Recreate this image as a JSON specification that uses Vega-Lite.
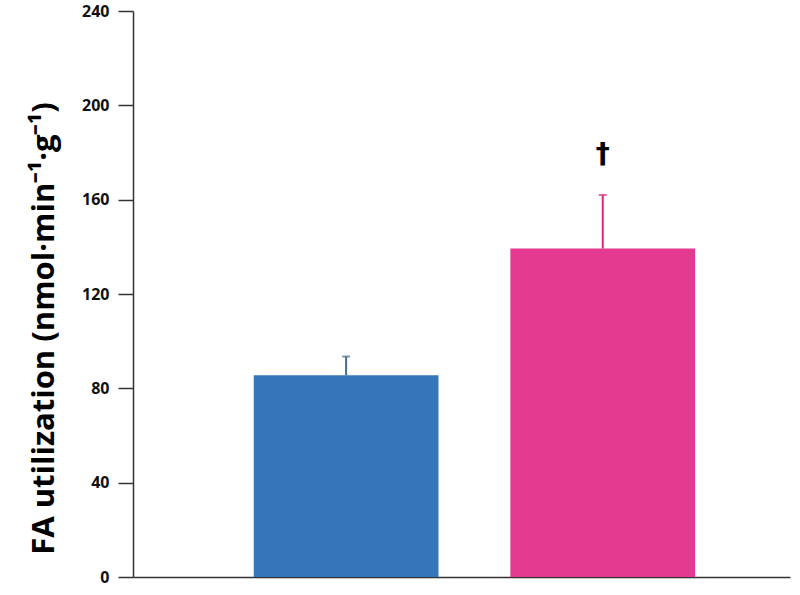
{
  "$schema": "https://vega.github.io/schema/vega-lite/v6.json",
  "width": 657,
  "height": 566,
  "autosize": {"type": "none"},
  "padding": {"left": 133, "top": 11, "right": 10, "bottom": 18},
  "background": "white",
  "config": {"view": {"stroke": null}},
  "data": {"values": [
    {"group": "A", "mean": 85.5, "upper": 93.5, "color": "#3476b9", "ecolor": "#4a6a8f"},
    {"group": "B", "mean": 139.3, "upper": 162, "color": "#e43b90", "ecolor": "#d62a7e"}
  ]},
  "encoding": {
    "x": {"field": "group", "type": "nominal",
      "scale": {"paddingInner": 0.28, "paddingOuter": 0.42, "align": 0.56},
      "axis": {"title": null, "labels": false, "ticks": false, "domainColor": "#333", "domainWidth": 1.5}}
  },
  "layer": [
    {"mark": {"type": "bar"},
     "encoding": {
       "y": {"field": "mean", "type": "quantitative",
         "scale": {"domain": [0, 240]},
         "axis": {"values": [0, 40, 80, 120, 160, 200, 240], "grid": false,
           "tickSize": 15, "tickColor": "#333", "domainColor": "#333", "domainWidth": 1.5, "tickWidth": 1.5,
           "labelFont": "Open Sans", "labelFontWeight": "bold", "labelFontSize": 16, "labelColor": "#111", "labelPadding": 9,
           "title": "FA utilization (nmol·min⁻¹·g⁻¹)", "titleFont": "Open Sans", "titleFontWeight": "bold",
           "titleFontSize": 31, "titleColor": "#000", "titlePadding": 21, "titleY": 317}},
       "color": {"field": "color", "type": "nominal", "scale": null}
     }},
    {"mark": {"type": "rule", "strokeWidth": 2},
     "encoding": {
       "y": {"field": "mean", "type": "quantitative"},
       "y2": {"field": "upper"},
       "color": {"field": "ecolor", "type": "nominal", "scale": null}
     }},
    {"mark": {"type": "tick", "thickness": 2, "size": 8},
     "encoding": {
       "y": {"field": "upper", "type": "quantitative"},
       "color": {"field": "ecolor", "type": "nominal", "scale": null}
     }},
    {"transform": [{"filter": "datum.group == 'B'"}],
     "mark": {"type": "text", "text": "†", "fontSize": 28, "fontWeight": "bold", "font": "DejaVu Sans", "color": "#000"},
     "encoding": {"y": {"datum": 179, "type": "quantitative"}}}
  ]
}
